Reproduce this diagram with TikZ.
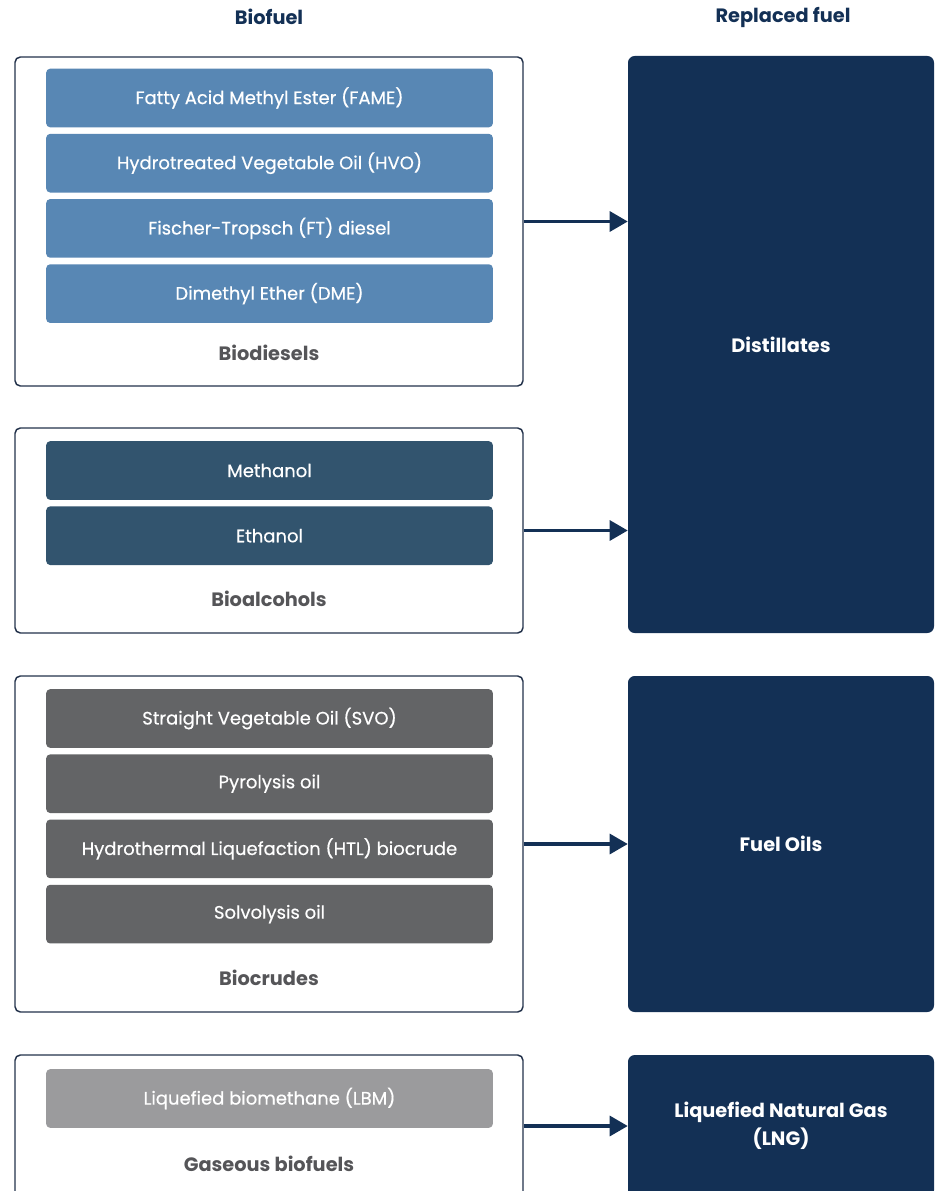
\documentclass[tikz,border=0pt]{standalone}
\usepackage{fontspec}
\setmainfont{Poppins}
\newfontfamily\itemfont{Poppins}[FakeBold=0.5]
\usetikzlibrary{positioning, arrows.meta}
\definecolor{navy}{RGB}{19,48,85}
\definecolor{framecol}{RGB}{35,50,75}
\definecolor{dieselblue}{RGB}{88,135,180}
\definecolor{alcoholblue}{RGB}{50,84,110}
\definecolor{crudegray}{RGB}{99,100,102}
\definecolor{gasgray}{RGB}{155,155,157}
\definecolor{labelgray}{RGB}{85,85,88}

\begin{document}
\begin{tikzpicture}[x=0.75pt, y=-0.75pt,
    group/.style={draw=framecol, line width=1.1pt, rounded corners=4pt,
                  minimum width=381pt, fill=white},
    item/.style={rectangle, rounded corners=3pt, minimum width=335pt,
                 minimum height=44pt, inner sep=0pt, text=white,
                 font=\itemfont\fontsize{13.5}{16}\selectfont},
    diesel/.style={item, fill=dieselblue},
    alcohol/.style={item, fill=alcoholblue},
    crude/.style={item, fill=crudegray},
    gas/.style={item, fill=gasgray},
    target/.style={rectangle, rounded corners=5pt, fill=navy, text=white,
                   minimum width=229.5pt, align=center,
                   font=\bfseries\fontsize{14.5}{21}\selectfont},
    title/.style={font=\bfseries\fontsize{14.5}{17}\selectfont, text=navy},
    caption/.style={font=\bfseries\fontsize{14.5}{17}\selectfont, text=labelgray},
    arrow/.style={-{Triangle[length=13.5pt, width=15pt]}, line width=2.3pt, draw=navy}
]
\useasboundingbox (0,0) rectangle (936,1191);
\clip (0,0) rectangle (936,1191);

\node[title] (biofuel) at (269,17) {Biofuel};
\node[title] (replaced) at (783,17) {Replaced fuel};

% Biofuel groups
\node[group, minimum height=246.75pt] (biodiesels) at (269,221.5) {};
\node[diesel] (fame) at (269.5,98) {Fatty Acid Methyl Ester (FAME)};
\node[diesel, below=4.5pt of fame] (hvo) {Hydrotreated Vegetable Oil (HVO)};
\node[diesel, below=4.5pt of hvo] (ft) {Fischer-Tropsch (FT) diesel};
\node[diesel, below=4.5pt of ft] (dme) {Dimethyl Ether (DME)};
\node[caption] (biodieselslabel) at (269,353) {Biodiesels};

\node[group, minimum height=153.75pt] (bioalcohols) at (269,530.5) {};
\node[alcohol] (methanol) at (269.5,470.5) {Methanol};
\node[alcohol, below=4.5pt of methanol] (ethanol) {Ethanol};
\node[caption] (bioalcoholslabel) at (269,599) {Bioalcohols};

\node[group, minimum height=252pt] (biocrudes) at (269,844) {};
\node[crude] (svo) at (269.5,718.5) {Straight Vegetable Oil (SVO)};
\node[crude, below=4.5pt of svo] (pyrolysis) {Pyrolysis oil};
\node[crude, below=4.5pt of pyrolysis] (htl) {Hydrothermal Liquefaction (HTL) biocrude};
\node[crude, below=4.5pt of htl] (solvolysis) {Solvolysis oil};
\node[caption] (biocrudeslabel) at (269,978) {Biocrudes};

\node[group, minimum height=106.5pt] (gaseous) at (269,1126) {};
\node[gas] (lbm) at (269.5,1098.5) {Liquefied biomethane (LBM)};
\node[caption] (gaseouslabel) at (269,1164) {Gaseous biofuels};

% Replaced fuels
\node[target, minimum height=432.75pt] (distillates) at (781,344.5) {Distillates};
\node[target, minimum height=252pt] (fueloils) at (781,844) {Fuel Oils};
\node[target, minimum height=106.5pt] (lng) at (781,1126) {Liquefied Natural Gas\\(LNG)};

\draw[arrow] (biodiesels.east) -- (biodiesels.east -| distillates.west);
\draw[arrow] (bioalcohols.east) -- (bioalcohols.east -| distillates.west);
\draw[arrow] (biocrudes.east) -- (fueloils.west);
\draw[arrow] (gaseous.east) -- (lng.west);

\end{tikzpicture}
\end{document}
